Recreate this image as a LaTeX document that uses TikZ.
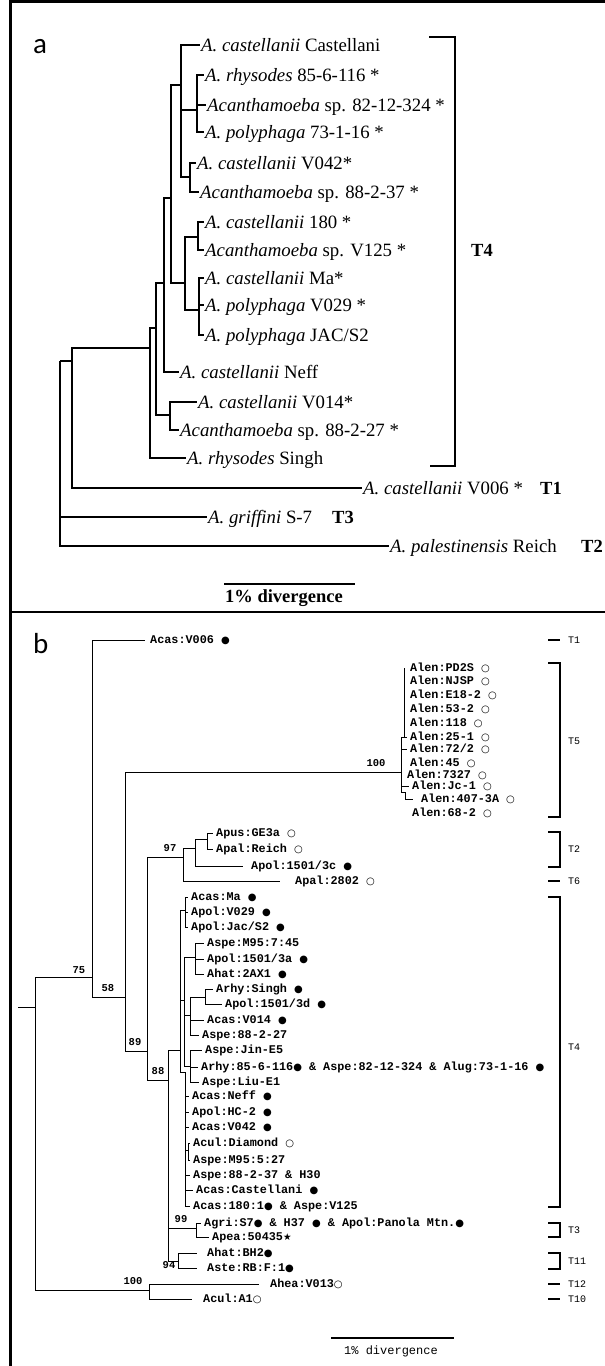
\documentclass[tikz,border=0pt]{standalone}
\usepackage{fontspec}
\setmainfont{Liberation Serif}
\newfontfamily\strainfont{Liberation Mono}
\newfontfamily\symfont{DejaVu Sans}
\newfontfamily\panelfont{Carlito}
\usetikzlibrary{positioning}

\newcommand{\filldot}{{\symfont\fontsize{10}{10}\selectfont ●}}
\newcommand{\hollowdot}{{\symfont\fontsize{10}{10}\selectfont ○}}
\newcommand{\starmark}{{\symfont\fontsize{9.5}{10}\selectfont ★}}

\begin{document}
\begin{tikzpicture}[x=1pt,y=-1pt,
  panel/.style={anchor=base west, inner sep=0pt, font=\panelfont\fontsize{29}{30}\selectfont},
  taxon/.style={anchor=west, inner sep=0pt, text height=12pt, text depth=0pt, font=\fontsize{18.8}{20}\selectfont},
  typelab/.style={anchor=west, inner sep=0pt, text height=12pt, text depth=0pt, font=\bfseries\fontsize{18.5}{20}\selectfont},
  strain/.style={anchor=west, inner sep=0pt, text height=6.5pt, text depth=0pt, font=\strainfont\bfseries\fontsize{11.8}{12}\selectfont},
  clade/.style={anchor=west, inner sep=0pt, text height=6pt, text depth=0pt, font=\strainfont\fontsize{10}{10}\selectfont},
  boot/.style={inner sep=0pt, font=\strainfont\bfseries\fontsize{10.5}{11}\selectfont},
  thickbranch/.style={line width=2.6pt},
  thinbranch/.style={line width=0.9pt},
  leafedge/.style={thinbranch, shorten >=3pt}]
\useasboundingbox (0,0) rectangle (605,1366);

% frame
\draw[line width=3pt] (10,1366) -- (10,1.5) -- (605,1.5);
\draw[line width=2pt] (10,612) -- (605,612);

% ---------------- panel a ----------------
\node[panel] (laba) at (33,53) {a};

\node[taxon] (cas) at (201,45) {\textit{A. castellanii} Castellani};
\node[taxon] (rhy85) at (205,75) {\textit{A. rhysodes} 85-6-116 *};
\node[taxon] (sp82) at (207,105) {\textit{Acanthamoeba} sp. 82-12-324 *};
\node[taxon] (pol73) at (205,132) {\textit{A. polyphaga} 73-1-16 *};
\node[taxon] (cas042) at (197,163) {\textit{A. castellanii} V042*};
\node[taxon] (sp8837) at (200,192) {\textit{Acanthamoeba} sp. 88-2-37 *};
\node[taxon] (cas180) at (205,222) {\textit{A. castellanii} 180 *};
\node[taxon] (spv125) at (205,250) {\textit{Acanthamoeba} sp. V125 *};
\node[taxon] (casma) at (205,278) {\textit{A. castellanii} Ma*};
\node[taxon] (pol029) at (205,305) {\textit{A. polyphaga} V029 *};
\node[taxon] (poljac) at (205,335) {\textit{A. polyphaga} JAC/S2};
\node[taxon] (casneff) at (180,372) {\textit{A. castellanii} Neff};
\node[taxon] (cas014) at (198,402) {\textit{A. castellanii} V014*};
\node[taxon] (sp8827) at (180,430) {\textit{Acanthamoeba} sp. 88-2-27 *};
\node[taxon] (rhysin) at (187,458) {\textit{A. rhysodes} Singh};
\node[taxon] (cas006) at (363,488) {\textit{A. castellanii} V006 *};
\node[taxon] (gri) at (208,517) {\textit{A. griffini} S-7};
\node[taxon] (pal) at (390,546) {\textit{A. palestinensis} Reich};

\node[typelab] (ta4) at (471,250) {T4};
\node[typelab] (ta1) at (540,488) {T1};
\node[typelab] (ta3) at (332,517) {T3};
\node[typelab] (ta2) at (581,546) {T2};

\coordinate (ra) at (60,361);
\coordinate (ka) at (72,361);
\coordinate (kb) at (150,348);
\coordinate (kc) at (156,328);
\coordinate (kd) at (164,283);
\coordinate (ke) at (170,415);
\coordinate (kf) at (171,198);
\coordinate (kg) at (185,283);
\coordinate (kh) at (181,85);
\coordinate (ki) at (197,110);
\coordinate (kj) at (190,177);
\coordinate (kk) at (198,237);
\coordinate (kl) at (199,310);

\foreach \p/\c in {ra/ka, ka/kb, kb/kc, kc/kd, kc/ke, kd/kf, kf/kh, kf/kg, kh/ki, kh/kj, kg/kk, kg/kl}
  \draw[thickbranch] (\p) |- (\c);
\foreach \p/\c in {ra/gri, ra/pal, ka/cas006, kb/rhysin, kd/casneff, kh/cas, ki/rhy85, ki/sp82, ki/pol73,
    kj/cas042, kj/sp8837, kk/cas180, kk/spv125, kl/casma, kl/pol029, kl/poljac, ke/cas014, ke/sp8827}
  \draw[thickbranch, shorten >=1.5pt] (\p) |- (\c.west);

\draw[thickbranch] (429,37) -| (455,466) -- (430,466);

\draw[thickbranch] (224,584) -- (355,584);
\node[font=\bfseries\fontsize{18.5}{20}\selectfont, inner sep=0pt] (scalea) at (284,598) {1\% divergence};

% ---------------- panel b ----------------
\node[panel] (labb) at (33,653) {b};

\node[strain] (v006) at (150,640) {Acas:V006 \filldot};
\node[strain] (al1) at (410,668) {Alen:PD2S \hollowdot};
\node[strain] (al2) at (410,681) {Alen:NJSP \hollowdot};
\node[strain] (al3) at (410,695) {Alen:E18-2 \hollowdot};
\node[strain] (al4) at (410,709) {Alen:53-2 \hollowdot};
\node[strain] (al5) at (410,723) {Alen:118 \hollowdot};
\node[strain] (al6) at (410,737) {Alen:25-1 \hollowdot};
\node[strain] (al7) at (410,749) {Alen:72/2 \hollowdot};
\node[strain] (al8) at (410,763) {Alen:45 \hollowdot};
\node[strain] (al9) at (407,775) {Alen:7327 \hollowdot};
\node[strain] (al10) at (412,786) {Alen:Jc-1 \hollowdot};
\node[strain] (al11) at (421,799) {Alen:407-3A \hollowdot};
\node[strain] (al12) at (412,813) {Alen:68-2 \hollowdot};
\node[strain] (apus) at (216,833) {Apus:GE3a \hollowdot};
\node[strain] (apalr) at (216,849) {Apal:Reich \hollowdot};
\node[strain] (pol3c) at (251,866) {Apol:1501/3c \filldot};
\node[strain] (apal28) at (295,881) {Apal:2802 \hollowdot};
\node[strain] (bma) at (191,897) {Acas:Ma \filldot};
\node[strain] (b029) at (191,912) {Apol:V029 \filldot};
\node[strain] (bjac) at (191,927) {Apol:Jac/S2 \filldot};
\node[strain] (m957) at (207,943) {Aspe:M95:7:45};
\node[strain] (pol3a) at (207,959) {Apol:1501/3a \filldot};
\node[strain] (hat2) at (207,974) {Ahat:2AX1 \filldot};
\node[strain] (bsing) at (216,989) {Arhy:Singh \filldot};
\node[strain] (pol3d) at (225,1004) {Apol:1501/3d \filldot};
\node[strain] (b014) at (207,1020) {Acas:V014 \filldot};
\node[strain] (b8827) at (202,1035) {Aspe:88-2-27};
\node[strain] (jin) at (205,1050) {Aspe:Jin-E5};
\node[strain] (rhy85b) at (201,1067) {Arhy:85-6-116\filldot{} \& Aspe:82-12-324 \& Alug:73-1-16 \filldot};
\node[strain] (liu) at (202,1082) {Aspe:Liu-E1};
\node[strain] (bneff) at (192,1096) {Acas:Neff \filldot};
\node[strain] (hc2) at (192,1112) {Apol:HC-2 \filldot};
\node[strain] (b042) at (192,1127) {Acas:V042 \filldot};
\node[strain] (dia) at (193,1143) {Acul:Diamond \hollowdot};
\node[strain] (m9552) at (193,1160) {Aspe:M95:5:27};
\node[strain] (b8837) at (193,1175) {Aspe:88-2-37 \& H30};
\node[strain] (bcast) at (196,1190) {Acas:Castellani \filldot};
\node[strain] (b180) at (193,1206) {Acas:180:1\filldot{} \& Aspe:V125};
\node[strain] (agri) at (204,1223) {Agri:S7\filldot{} \& H37 \filldot{} \& Apol:Panola Mtn.\filldot};
\node[strain] (apea) at (212,1237) {Apea:50435\starmark};
\node[strain] (bh2) at (207,1253) {Ahat:BH2\filldot};
\node[strain] (aste) at (207,1268) {Aste:RB:F:1\filldot};
\node[strain] (ahea) at (270,1284) {Ahea:V013\hollowdot};
\node[strain] (acul) at (203,1299) {Acul:A1\hollowdot};

\coordinate (st) at (18,1007);
\coordinate (rt) at (35,1007);
\coordinate (n75) at (92,977);
\coordinate (n58) at (125,997);
\coordinate (n100) at (401,772);
\coordinate (n407) at (405,792);
\coordinate (n89) at (147,1051);
\coordinate (n97) at (183,857);
\coordinate (n97a) at (195,848);
\coordinate (n97b) at (207,839);
\coordinate (n88) at (168,1080);
\coordinate (nT4) at (180,1050);
\coordinate (nMa) at (185,910);
\coordinate (nMid) at (184,1000);
\coordinate (nM95) at (195,957);
\coordinate (nSing) at (190,1015);
\coordinate (nSing2) at (205,997);
\coordinate (nJin) at (190,1066);
\coordinate (nLow) at (185,1072);
\coordinate (nDia) at (188,1150);
\coordinate (n99) at (196,1228);
\coordinate (n94) at (178,1261);
\coordinate (n100b) at (149,1290);

\draw[thinbranch] (st) -- (rt);
\foreach \p/\c in {rt/n75, rt/n100b, n75/n58, n58/n100, n58/n89, n100/n407, n89/n97, n89/n88, n97/n97a, n97a/n97b,
    n88/nT4, n88/n99, n88/n94, nT4/nMa, nT4/nMid, nT4/nLow, nMid/nM95, nMid/nSing, nMid/nJin, nSing/nSing2, nLow/nDia}
  \draw[thinbranch] (\p) |- (\c);
\foreach \p/\c in {n100/al6, n100/al7, n100/al10, n97b/apus, n97b/apalr, nMa/bma, nMa/b029, nMa/bjac,
    nM95/m957, nM95/pol3a, nM95/hat2, nSing2/bsing, nSing2/pol3d, nSing/b014, nSing/b8827,
    nJin/jin, nJin/rhy85b, nJin/liu, nLow/bneff, nLow/hc2, nLow/b042, nLow/b8837, nLow/bcast, nLow/b180,
    nDia/dia, nDia/m9552, n99/agri, n99/apea}
  \draw[leafedge] (\p) |- (\c.west);
\draw[thinbranch] ([xshift=-6pt]al1.west) -- ([xshift=-6pt]al6.west);
\draw[leafedge, shorten >=8pt] (n407) |- (al11.west);
\draw[leafedge, shorten >=5pt] (n75) |- (v006.west);
\draw[leafedge, shorten >=8pt] (n97a) |- (pol3c.west);
\draw[leafedge, shorten >=15pt] (n97) |- (apal28.west);
\draw[leafedge, shorten >=10pt] (n94) |- (bh2.west);
\draw[leafedge, shorten >=10pt] (n94) |- (aste.west);
\draw[leafedge, shorten >=11pt] (n100b) |- (ahea.west);
\draw[leafedge, shorten >=11pt] (n100b) |- (acul.west);

\node[boot] (bs100) at (376,763) {100};
\node[boot] (bs97) at (170,848) {97};
\node[boot] (bs75) at (79,970) {75};
\node[boot] (bs58) at (108,988) {58};
\node[boot] (bs89) at (135,1042) {89};
\node[boot] (bs88) at (158,1071) {88};
\node[boot] (bs99) at (181,1219) {99};
\node[boot] (bs94) at (169,1265) {94};
\node[boot] (bs100b) at (133,1281) {100};

% clade brackets
\draw[line width=2pt] (548,640) -- (560,640);
\draw[line width=2pt] (548,663) -| (560,817) -- (548,817);
\draw[line width=2pt] (548,832) -| (560,867) -- (548,867);
\draw[line width=2pt] (548,881) -- (560,881);
\draw[line width=2pt] (548,897) -| (560,1207) -- (548,1207);
\draw[line width=2pt] (548,1223) -| (560,1237) -- (548,1237);
\draw[line width=2pt] (548,1253) -| (560,1269) -- (548,1269);
\draw[line width=2pt] (548,1284) -- (560,1284);
\draw[line width=2pt] (548,1299) -- (560,1299);
\node[clade] (tb1) at (568,640) {T1};
\node[clade] (tb5) at (568,741) {T5};
\node[clade] (tb2) at (568,849) {T2};
\node[clade] (tb6) at (568,881) {T6};
\node[clade] (tb4) at (568,1047) {T4};
\node[clade] (tb3) at (568,1230) {T3};
\node[clade] (tb11) at (568,1261) {T11};
\node[clade] (tb12) at (568,1284) {T12};
\node[clade] (tb10) at (568,1299) {T10};

\draw[line width=1.5pt] (331,1338) -- (454,1338);
\node[font=\strainfont\fontsize{12}{12}\selectfont, inner sep=0pt] (scaleb) at (391,1351) {1\% divergence};
\end{tikzpicture}
\end{document}
